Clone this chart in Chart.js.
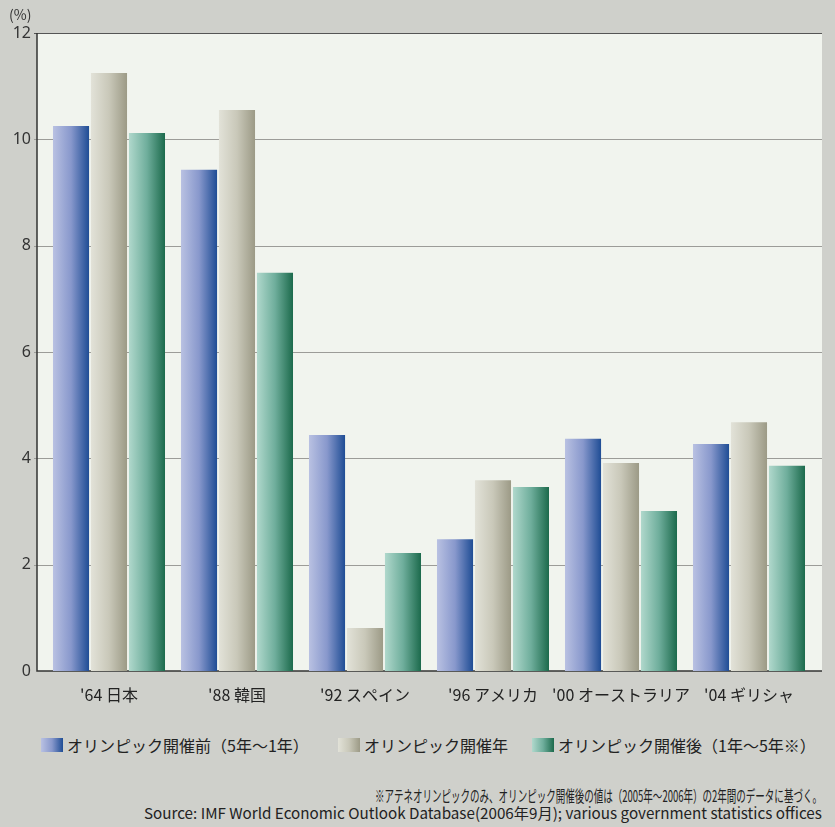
<!DOCTYPE html>
<html lang="ja">
<head>
<meta charset="UTF-8" />
<title>オリンピック開催前後の経済成長率</title>
<script src="https://cdn.jsdelivr.net/npm/chart.js"></script>
<style>
    body {
        margin: 0;
        background: #cfd0cb;
        font-family: "Noto Sans CJK JP", "Noto Sans", sans-serif;
        color: #222;
    }
    #wrap {
        position: relative;
        width: 835px;
        height: 827px;
        overflow: hidden;
    }
    #chartBox {
        position: absolute;
        left: 0;
        top: 0;
        width: 835px;
        height: 720px;
    }
    #unit {
        position: absolute;
        left: 9px;
        top: 4px;
        font-size: 14px;
        color: #333;
    }
    #legend {
        position: absolute;
        left: 41px;
        top: 733px;
        font-size: 16px;
        white-space: nowrap;
        color: #222;
    }
    #legend .item {
        position: absolute;
        top: 0;
        display: flex;
        align-items: center;
    }
    #legend .box {
        width: 22px;
        height: 14px;
        margin-right: 4px;
    }
    .note {
        position: absolute;
        right: 13px;
        white-space: nowrap;
        color: #222;
        transform-origin: right center;
    }
</style>
</head>
<body>
<div id="wrap">
    <div id="chartBox"><canvas id="grafico" width="835" height="720"></canvas></div>
    <div id="unit">(%)</div>
    <div id="legend"></div>
    <div class="note" id="nota1" style="top:783px; font-size:16px">※アテネオリンピックのみ、オリンピック開催後の値は（2005年～2006年）の2年間のデータに基づく。</div>
    <div class="note" id="nota2" style="top:802px; font-size:15px">Source: IMF World Economic Outlook Database(2006年9月); various government statistics offices</div>
</div>

<script>
    // datos (%)
    const categorias = ["'64 日本", "'88 韓国", "'92 スペイン", "'96 アメリカ", "'00 オーストラリア", "'04 ギリシャ"];
    const antes = [10.25, 9.43, 4.44, 2.48, 4.37, 4.27];
    const durante = [11.25, 10.55, 0.81, 3.59, 3.91, 4.68];
    const despues = [10.12, 7.49, 2.22, 3.46, 3.01, 3.86];
    const nombres = ['オリンピック開催前（5年～1年）', 'オリンピック開催年', 'オリンピック開催後（1年～5年※）'];
    const ticksY = [0, 2, 4, 6, 8, 10, 12];

    const colores = [
        ['#b9c1e2', '#8898cc', '#1f4d95'],
        ['#e2e2d8', '#c9c8b9', '#9c9a86'],
        ['#b0d8cc', '#6fae9c', '#1c6a4c']
    ];

    const CAT_PCT = 0.89, BAR_PCT = 0.95;

    // leyenda en HTML
    const legendPos = [0, 297, 491];
    const legend = document.getElementById('legend');
    nombres.forEach((n, i) => {
        const it = document.createElement('div');
        it.className = 'item';
        it.style.left = legendPos[i] + 'px';
        const b = document.createElement('div');
        b.className = 'box';
        b.style.background = `linear-gradient(to right, ${colores[i][0]}, ${colores[i][1]}, ${colores[i][2]})`;
        const t = document.createElement('span');
        t.textContent = n;
        it.appendChild(b);
        it.appendChild(t);
        legend.appendChild(it);
    });

    // ajustar ancho de las notas al original
    function ajustar(id, ancho) {
        const el = document.getElementById(id);
        el.style.transform = `scaleX(${ancho / el.offsetWidth})`;
    }
    ajustar('nota1', 447);
    ajustar('nota2', 678);

    const PANEL_L = 37, PANEL_R = 822;

    // fondo del panel, rejilla y ejes
    const panelPlugin = {
        id: 'panel',
        beforeDatasetsDraw(chart) {
            const c = chart.ctx;
            const y = chart.scales.y;
            const top = y.getPixelForValue(12);
            const bottom = y.getPixelForValue(0);
            c.save();
            c.fillStyle = '#f1f4ee';
            c.fillRect(PANEL_L, top, PANEL_R - PANEL_L, bottom - top);
            ticksY.forEach(v => {
                if (v === 0) return;
                const py = Math.round(y.getPixelForValue(v)) + 0.5;
                c.strokeStyle = v === 12 ? '#555' : '#9c9c98';
                c.lineWidth = 1;
                c.beginPath();
                c.moveTo(PANEL_L - 3, py);
                c.lineTo(PANEL_R, py);
                c.stroke();
            });
            c.strokeStyle = '#333';
            c.lineWidth = 1.5;
            c.beginPath();
            c.moveTo(PANEL_L, top);
            c.lineTo(PANEL_L, bottom);
            c.lineTo(PANEL_R, bottom);
            c.stroke();
            c.restore();
        }
    };

    // degradado horizontal calculado con la escala x
    function degradado(context) {
        const chart = context.chart;
        const col = colores[context.datasetIndex];
        const xs = chart.scales.x;
        if (!xs || context.dataIndex === undefined) return col[1];
        const n = chart.data.datasets.length;
        const catW = xs.width / chart.data.labels.length;
        const slot = catW * CAT_PCT / n;
        const w = slot * BAR_PCT;
        const cx = xs.getPixelForValue(context.dataIndex) + (context.datasetIndex - (n - 1) / 2) * slot;
        if (!isFinite(cx) || !isFinite(w) || w <= 0) return col[1];
        const g = chart.ctx.createLinearGradient(cx - w / 2, 0, cx + w / 2, 0);
        g.addColorStop(0, col[0]);
        g.addColorStop(0.5, col[1]);
        g.addColorStop(1, col[2]);
        return g;
    }

    const ctx = document.getElementById('grafico').getContext('2d');
    const grafico = new Chart(ctx, {
        type: 'bar',
        data: {
            labels: categorias,
            datasets: [
                { label: nombres[0], data: antes, backgroundColor: degradado },
                { label: nombres[1], data: durante, backgroundColor: degradado },
                { label: nombres[2], data: despues, backgroundColor: degradado }
            ]
        },
        options: {
            responsive: false,
            animation: false,
            categoryPercentage: CAT_PCT,
            barPercentage: BAR_PCT,
            layout: { padding: { top: 33, right: 22, left: 0, bottom: 0 } },
            plugins: {
                legend: { display: false },
                tooltip: { enabled: false }
            },
            scales: {
                x: {
                    grid: { display: false },
                    border: { display: false },
                    ticks: {
                        color: '#222',
                        padding: 6,
                        maxRotation: 0,
                        minRotation: 0,
                        autoSkip: false,
                        font: { family: '"Noto Sans CJK JP"', size: 16 }
                    },
                    afterFit(s) { s.height = 49; }
                },
                y: {
                    min: 0,
                    max: 12,
                    grid: { display: false },
                    border: { display: false },
                    ticks: {
                        stepSize: 2,
                        color: '#333',
                        padding: 6,
                        font: { family: '"Noto Sans"', size: 16 }
                    },
                    afterFit(s) { s.width = 45; }
                }
            }
        },
        plugins: [panelPlugin]
    });
</script>
</body>
</html>
